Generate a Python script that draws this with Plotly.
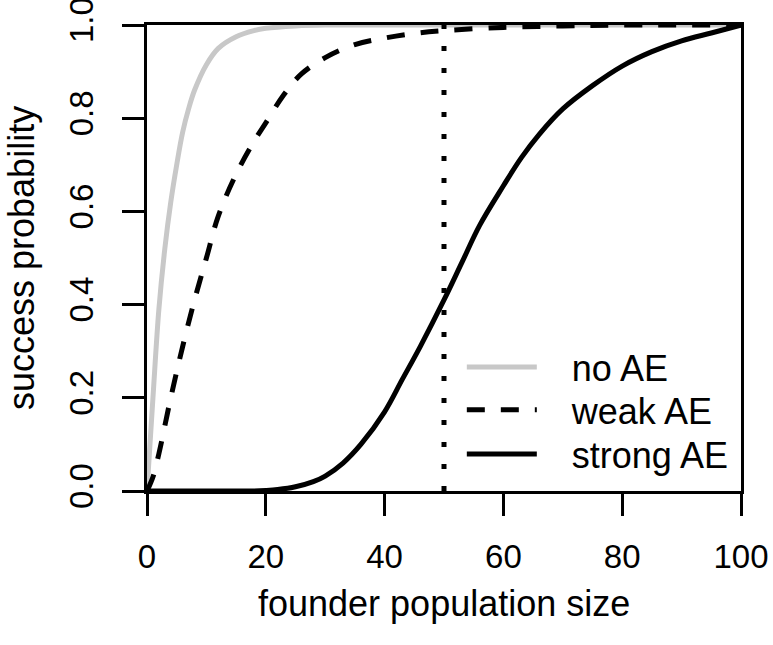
import plotly.graph_objects as go

# founder population size grid and read-off success probabilities
x_no = [0, 1, 2, 3, 4, 5, 6, 7, 8, 10, 12, 15, 18, 20, 25, 30, 40, 50, 60, 80, 100]
y_no = [0, 0.20, 0.39, 0.52, 0.62, 0.70, 0.77, 0.82, 0.86, 0.915, 0.95, 0.975, 0.988, 0.993, 0.998, 1, 1, 1, 1, 1, 1]

x_weak = [0, 1, 2, 4, 6, 8, 10, 12, 15, 18, 20, 23, 26, 30, 35, 40, 45, 50, 60, 70, 80, 100]
y_weak = [0, 0.03, 0.08, 0.20, 0.31, 0.41, 0.50, 0.59, 0.68, 0.75, 0.79, 0.85, 0.895, 0.93, 0.958, 0.972, 0.982, 0.988, 0.995, 0.998, 1, 1]

x_strong = [0, 10, 18, 20, 22, 25, 28, 30, 33, 36, 40, 43, 46, 50, 53, 56, 60, 63, 66, 70, 75, 80, 85, 90, 95, 100]
y_strong = [0, 0, 0, 0.001, 0.003, 0.009, 0.02, 0.032, 0.06, 0.10, 0.17, 0.24, 0.31, 0.41, 0.49, 0.57, 0.655, 0.715, 0.765, 0.82, 0.87, 0.912, 0.943, 0.966, 0.983, 1]

threshold = 50
pad = '\u00a0\u00a0\u00a0'

fig = go.Figure()
fig.add_trace(go.Scatter(x=x_no, y=y_no, mode='lines', name=pad + 'no AE', legend='legend',
                         line=dict(color='#c8c8c8', width=5, shape='spline')))
fig.add_trace(go.Scatter(x=x_weak, y=y_weak, mode='lines', name=pad + 'weak AE', legend='legend2',
                         line=dict(color='black', width=5, dash='18px,16px', shape='spline')))
fig.add_trace(go.Scatter(x=x_strong, y=y_strong, mode='lines', name=pad + 'strong AE', legend='legend3',
                         line=dict(color='black', width=5, shape='spline')))
fig.add_trace(go.Scatter(x=[threshold, threshold], y=[0, 1], mode='lines', showlegend=False,
                         line=dict(color='black', width=5, dash='5px,17px')))

font = 'Liberation Sans, Arial, sans-serif'
axis_common = dict(ticks='outside', ticklen=22, tickwidth=3, tickcolor='black', showline=True,
                   linewidth=3, linecolor='black', mirror=True, showgrid=False, zeroline=False,
                   automargin=False, ticklabeloverflow='allow', tickfont=dict(size=33))
# one legend per entry so the rows sit as tightly as in the original
leg = dict(x=0.53, xanchor='left', yanchor='middle', bgcolor='rgba(0,0,0,0)',
           font=dict(size=36), itemwidth=70)
fig.update_layout(
    width=773, height=645,
    margin=dict(l=147, r=32, t=25, b=154),
    paper_bgcolor='white', plot_bgcolor='white',
    font=dict(family=font, size=36, color='black'),
    showlegend=True,
    legend=dict(y=0.266, **leg),
    legend2=dict(y=0.174, **leg),
    legend3=dict(y=0.079, **leg),
    xaxis=dict(range=[0, 100], tickvals=[0, 20, 40, 60, 80, 100], ticklabelstandoff=12, **axis_common),
    yaxis=dict(range=[0, 1.0001], tickvals=[0, 0.2, 0.4, 0.6, 0.8, 1.0], tickformat='.1f',
               tickangle=-90, ticklabelstandoff=16, **axis_common),
    annotations=[
        dict(text='founder population size', xref='paper', yref='paper', x=0.5, y=0,
             yshift=-112, yanchor='middle', showarrow=False, font=dict(size=36)),
        dict(text='success probability', xref='paper', yref='paper', x=0, y=0.5,
             xshift=-126, xanchor='center', textangle=-90, showarrow=False, font=dict(size=36)),
    ],
)

fig.write_html("out.html", config={'displayModeBar': False},
               post_script="document.body.style.margin='0';")
